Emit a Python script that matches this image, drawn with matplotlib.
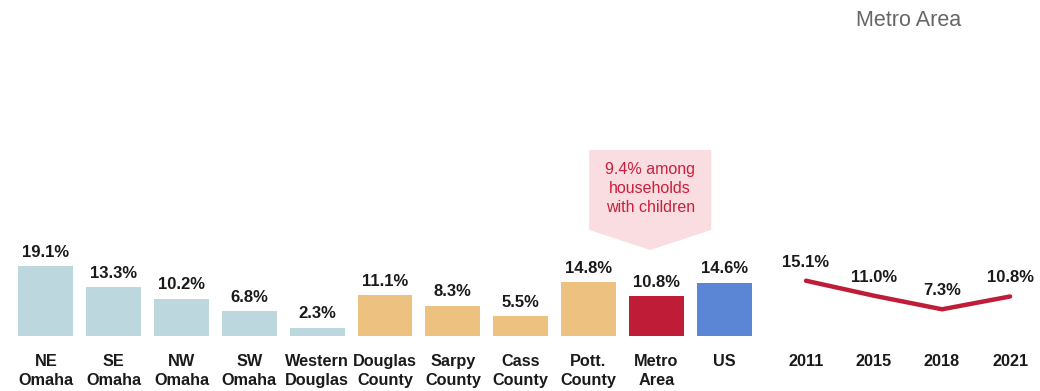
import matplotlib.pyplot as plt
from matplotlib.patches import Polygon

plt.rcParams['font.family'] = ['Liberation Sans', 'DejaVu Sans']

# share of households, by area
areas = ["NE\nOmaha", "SE\nOmaha", "NW\nOmaha", "SW\nOmaha", "Western\nDouglas",
         "Douglas\nCounty", "Sarpy\nCounty", "Cass\nCounty", "Pott.\nCounty",
         "Metro\nArea", "US"]
area_values = [19.1, 13.3, 10.2, 6.8, 2.3, 11.1, 8.3, 5.5, 14.8, 10.8, 14.6]
area_colors = ["#BDD7DE"] * 5 + ["#EDC17F"] * 4 + ["#BE1C37", "#5B86D6"]

# metro area over time
years = ["2011", "2015", "2018", "2021"]
metro_values = [15.1, 11.0, 7.3, 10.8]

callout_text = "9.4% among\nhouseholds\nwith children"

W, H = 1040, 391
fig = plt.figure(figsize=(W / 100, H / 100), dpi=100)

px_per_unit = 3.66
ytop = 64
bottom = 55 / H
height = ytop * px_per_unit / H

ax = fig.add_axes([12 / W, bottom, 746 / W, height])
ax2 = fig.add_axes([772 / W, bottom, 268 / W, height])

label_kw = dict(fontsize=12, fontweight="bold", color="#1a1a1a")
tick_kw = dict(fontsize=11.7, fontweight="bold", color="#1a1a1a")

# bars
x = range(len(areas))
bars = ax.bar(x, area_values, width=0.81, color=area_colors)
for xi, v in zip(x, area_values):
    ax.annotate(f"{v:.1f}%", (xi, v), xytext=(0, 4.5), textcoords="offset points",
                ha="center", va="bottom", **label_kw)
ax.set_xticks(list(x))
ax.set_xticklabels(areas, linespacing=1.3, **tick_kw)
ax.set_xlim(-0.5, len(areas) - 0.5)

# callout above the metro bar
mi = areas.index("Metro\nArea")
cx = mi - 0.09
box = Polygon([(cx - 0.9, 50.8), (cx + 0.9, 50.8), (cx + 0.9, 29.0),
               (cx, 23.5), (cx - 0.9, 29.0)],
              closed=True, facecolor="#F9DDE0", edgecolor="none", zorder=1)
ax.add_patch(box)
ax.text(cx, 40.3, callout_text, ha="center", va="center", fontsize=11.5,
        color="#C8203E", linespacing=1.3, zorder=2)

# trend line
xl = range(len(years))
ax2.plot(xl, metro_values, color="#BE1C37", lw=3.2, solid_capstyle="round",
         solid_joinstyle="round")
for xi, v in zip(xl, metro_values):
    ax2.annotate(f"{v:.1f}%", (xi, v), xytext=(0, 8), textcoords="offset points",
                 ha="center", va="bottom", **label_kw)
ax2.set_xticks(list(xl))
ax2.set_xticklabels(years, **tick_kw)
ax2.set_xlim(-0.5, len(years) - 0.56)

for a in (ax, ax2):
    a.set_ylim(0, ytop)
    a.set_yticks([])
    a.tick_params(axis="x", length=0, pad=13)
    for s in a.spines.values():
        s.set_visible(False)
    a.patch.set_alpha(0)

fig.text(909 / W, 1 - 20 / H, "Metro Area", ha="center", va="center",
         fontsize=15.5, color="#666666")

fig.savefig("out.png", dpi=100)
plt.close()
